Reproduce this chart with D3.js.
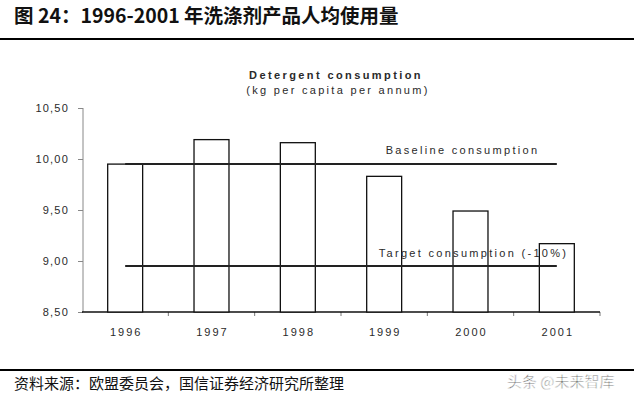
<!DOCTYPE html>
<html>
<head>
<meta charset="utf-8">
<script src="https://cdn.jsdelivr.net/npm/d3@7"></script>
<style>
  body { margin: 0; background: #fff; }
  svg { display: block; }
  .cn { font-family: "Noto Sans CJK SC", sans-serif; }
  .lat { font-family: "Liberation Sans", Arial, sans-serif; }
</style>
</head>
<body>
<svg id="chart" width="634" height="396"></svg>
<script>
// data
var years = ["1996", "1997", "1998", "1999", "2000", "2001"];
var consumption = [9.95, 10.19, 10.16, 9.83, 9.49, 9.17];
var baselineValue = 9.95;
var targetValue = 8.95;
var yTicks = [8.5, 9.0, 9.5, 10.0, 10.5];

var svg = d3.select("#chart");

// page header / footer
svg.append("text")
  .attr("class", "cn")
  .attr("x", 14).attr("y", 23)
  .attr("font-size", 19.5).attr("font-weight", "bold")
  .attr("fill", "#111")
  .text("图 24：1996-2001 年洗涤剂产品人均使用量");

svg.append("line")
  .attr("x1", 0).attr("x2", 634).attr("y1", 39).attr("y2", 39)
  .attr("stroke", "#000").attr("stroke-width", 2);

svg.append("line")
  .attr("x1", 0).attr("x2", 634).attr("y1", 370).attr("y2", 370)
  .attr("stroke", "#000").attr("stroke-width", 2);

svg.append("text")
  .attr("class", "cn")
  .attr("x", 14).attr("y", 389)
  .attr("font-size", 15)
  .attr("fill", "#111")
  .text("资料来源：欧盟委员会，国信证券经济研究所整理");

svg.append("text")
  .attr("class", "cn")
  .attr("x", 507).attr("y", 387)
  .attr("font-size", 15)
  .attr("fill", "#555")
  .attr("stroke", "#fff").attr("stroke-width", 0.6)
  .text("头条 @未来智库");

// chart
var x = d3.scaleBand().domain(years).range([82, 600]).paddingInner(0.595).paddingOuter(0.2975);
var y = d3.scaleLinear().domain([8.5, 10.5]).range([312, 108]);
var step = x.step();

var fmt = function (d) { return d3.format(".2f")(d).replace(".", ","); };

var txt = "#2a2a2a";

svg.append("text")
  .attr("class", "lat")
  .attr("x", 336).attr("y", 79)
  .attr("text-anchor", "middle")
  .attr("font-size", 11).attr("font-weight", "bold")
  .attr("letter-spacing", 2.4)
  .attr("fill", txt)
  .text("Detergent consumption");

svg.append("text")
  .attr("class", "lat")
  .attr("x", 338).attr("y", 94)
  .attr("text-anchor", "middle")
  .attr("font-size", 11)
  .attr("letter-spacing", 2.3)
  .attr("fill", txt)
  .text("(kg per capita per annum)");

// y axis
var yAxis = d3.axisLeft(y).tickValues(yTicks).tickFormat(fmt).tickSize(5).tickPadding(9);
var gy = svg.append("g").attr("transform", "translate(83,0)").call(yAxis);
gy.select(".domain").attr("stroke", "#888").attr("d", "M0," + y(10.5) + "V" + y(8.5));
gy.selectAll(".tick line").attr("stroke", "#888");
gy.selectAll(".tick text")
  .attr("class", "lat")
  .attr("font-size", 11).attr("letter-spacing", 1.2)
  .attr("fill", txt);

// x axis: ticks sit between categories
var gx = svg.append("g").attr("transform", "translate(0,312)");
gx.selectAll("line.sep")
  .data(years)
  .enter()
  .append("line")
  .attr("class", "sep")
  .attr("x1", function (d) { return x(d) + x.bandwidth() / 2 + step / 2; })
  .attr("x2", function (d) { return x(d) + x.bandwidth() / 2 + step / 2; })
  .attr("y1", 0).attr("y2", 4)
  .attr("stroke", "#777");
gx.selectAll("text")
  .data(years)
  .enter()
  .append("text")
  .attr("class", "lat")
  .attr("x", function (d) { return x(d) + x.bandwidth() / 2 + 1; })
  .attr("y", 24)
  .attr("text-anchor", "middle")
  .attr("font-size", 11).attr("letter-spacing", 2)
  .attr("fill", txt)
  .text(function (d) { return d; });

// bars
svg.selectAll("rect.bar")
  .data(years)
  .enter()
  .append("rect")
  .attr("class", "bar")
  .attr("x", function (d) { return x(d); })
  .attr("y", function (d, i) { return y(consumption[i]); })
  .attr("width", x.bandwidth())
  .attr("height", function (d, i) { return y(8.5) - y(consumption[i]); })
  .attr("fill", "#fff")
  .attr("stroke", "#111")
  .attr("stroke-width", 1.3);

gx.append("line")
  .attr("x1", 82).attr("x2", 600).attr("y1", 0).attr("y2", 0)
  .attr("stroke", "#111").attr("stroke-width", 1.5);

// reference lines
var refs = [
  { v: baselineValue, label: "Baseline consumption", dx: 0, dy: -10 },
  { v: targetValue, label: "Target consumption (-10%)", dx: x.bandwidth() - 6, dy: -9 }
];
var x0 = x(years[0]) + x.bandwidth() / 2;
var x1 = x(years[years.length - 1]) + x.bandwidth() / 2;
refs.forEach(function (r) {
  svg.append("line")
    .attr("x1", x0).attr("x2", x1)
    .attr("y1", y(r.v)).attr("y2", y(r.v))
    .attr("stroke", "#222").attr("stroke-width", 2);
  svg.append("text")
    .attr("class", "lat")
    .attr("x", x(years[years.length - 1]) + r.dx)
    .attr("y", y(r.v) + r.dy)
    .attr("text-anchor", "end")
    .attr("font-size", 11).attr("letter-spacing", 2.3)
    .attr("fill", txt)
    .text(r.label);
});
</script>
</body>
</html>
